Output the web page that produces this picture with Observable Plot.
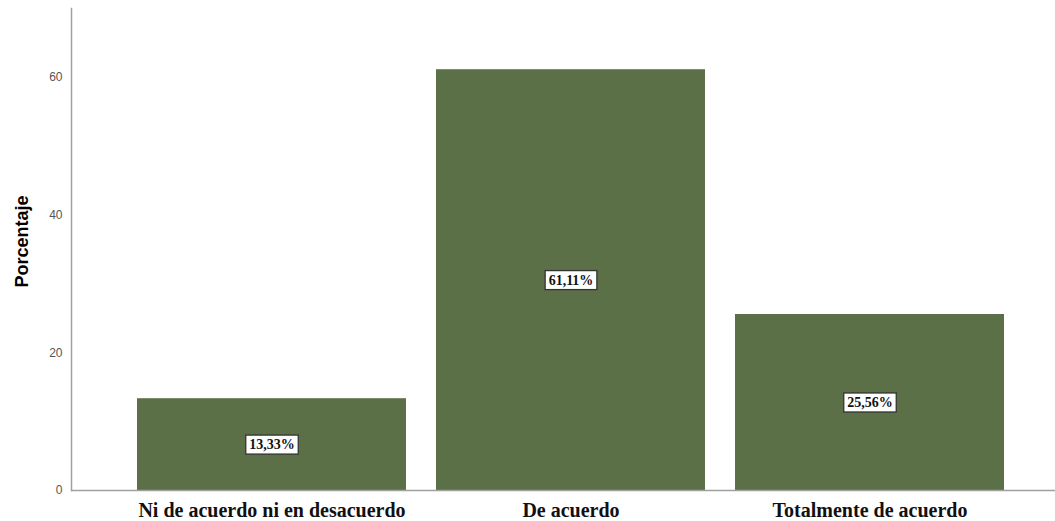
<!DOCTYPE html>
<html><head><meta charset="utf-8">
<script src="https://cdn.jsdelivr.net/npm/d3@7"></script>
<script src="https://cdn.jsdelivr.net/npm/@observablehq/plot@0.6"></script>
<style>body{margin:0;background:#fff}</style>
</head><body><div id="chart"></div>
<script>
const categories = ["Ni de acuerdo ni en desacuerdo", "De acuerdo", "Totalmente de acuerdo"];
const values = [13.33, 61.11, 25.56];
const labels = ["13,33%", "61,11%", "25,56%"];
const yTicks = [0, 20, 40, 60];

const data = categories.map((c, i) => ({cat: c, v: values[i], lab: labels[i]}));

const plot = Plot.plot({
  width: 1055, height: 521,
  marginLeft: 71, marginRight: 0, marginTop: 8, marginBottom: 31,
  style: {background: "#fff", overflow: "visible"},
  x: {domain: categories, paddingInner: 0.1, paddingOuter: 0.1928, align: 0.563, label: null},
  y: {domain: [0, 70], label: null},
  marks: [
    Plot.barY(data, {x: "cat", y: "v", fill: "#5b7047"}),
    Plot.frame({anchor: "left", stroke: "#a0a0a0", strokeWidth: 1.5}),
    Plot.ruleY([0], {stroke: "#a0a0a0", strokeWidth: 1.5}),
    Plot.axisY(yTicks, {tickSize: 0, tickPadding: 9, fontSize: 12, fontFamily: "Arial, Liberation Sans, sans-serif", fill: "#555", label: null}),
    Plot.axisX({tickSize: 0, tickPadding: 12, fontSize: 20, fontWeight: "bold", fontFamily: "Liberation Serif, Times New Roman, serif", fill: "#111", label: null}),
    Plot.text(data, {x: "cat", y: d => d.v / 2, text: "lab", fontSize: 14, fontWeight: "bold", fontFamily: "Liberation Serif, Times New Roman, serif", fill: "#111", letterSpacing: "-0.3px", className: "vlab"}),
    Plot.text(["Porcentaje"], {frameAnchor: "left", textAnchor: "middle", dx: -49, dy: -8, rotate: -90, fontSize: 18, fontWeight: "bold", fontFamily: "Arial, Liberation Sans, sans-serif", fill: "#000", letterSpacing: "-0.3px"})
  ]
});
document.getElementById("chart").appendChild(plot);

// white label boxes behind value labels
const g = plot.querySelector("g.vlab");
if (g) {
  g.querySelectorAll("text").forEach(t => {
    const b = t.getBBox();
    const tr = t.getAttribute("transform");
    const r = document.createElementNS("http://www.w3.org/2000/svg", "rect");
    r.setAttribute("x", b.x - 3.5); r.setAttribute("y", b.y - 2);
    r.setAttribute("width", b.width + 7); r.setAttribute("height", b.height + 4);
    r.setAttribute("fill", "#fff"); r.setAttribute("stroke", "#333"); r.setAttribute("stroke-width", "1.3");
    if (tr) r.setAttribute("transform", tr);
    g.insertBefore(r, t);
  });
}
</script></body></html>
